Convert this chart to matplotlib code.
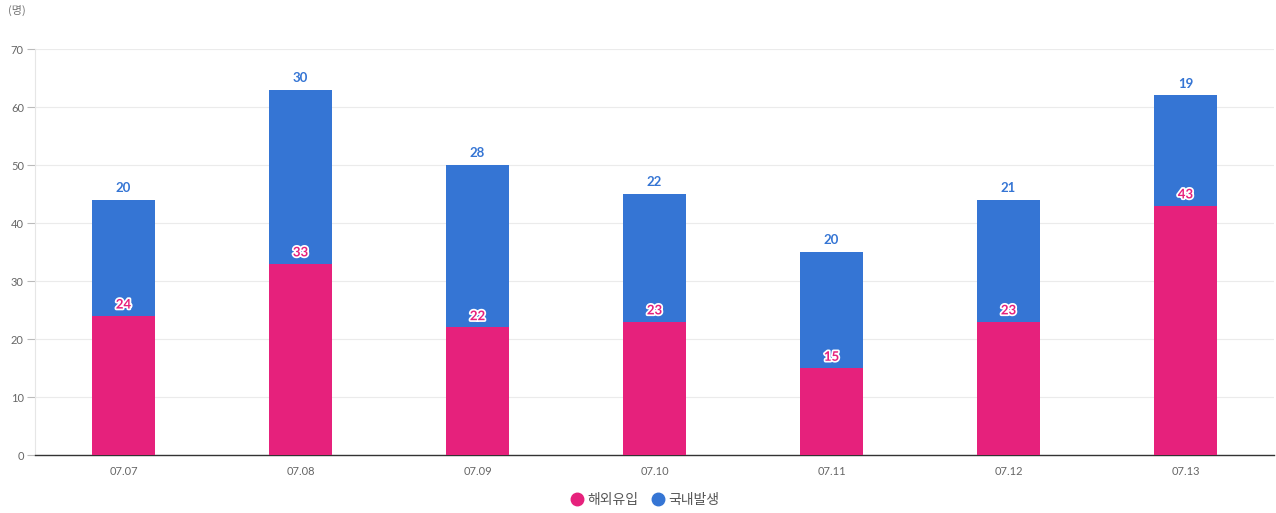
import matplotlib
matplotlib.use("Agg")
import matplotlib.pyplot as plt
import matplotlib.patheffects as pe
from matplotlib.lines import Line2D
import numpy as np

plt.rcParams['font.family'] = ['Noto Sans CJK KR', 'DejaVu Sans']

dates = ['07.07', '07.08', '07.09', '07.10', '07.11', '07.12', '07.13']
overseas = [24, 33, 22, 23, 15, 23, 43]   # 해외유입
domestic = [20, 30, 28, 22, 20, 21, 19]   # 국내발생
series_names = ['해외유입', '국내발생']
yticks = [0, 10, 20, 30, 40, 50, 60, 70]

pink = '#E6217C'
blue = '#3575D4'

fig = plt.figure(figsize=(12.76, 5.13), dpi=100)
ax = fig.add_axes([35/1276, 1-455/513, 1239/1276, 406/513])

x = np.arange(len(dates))
w = 0.36
ax.bar(x, overseas, width=w, color=pink, zorder=3)
ax.bar(x, domestic, width=w, bottom=overseas, color=blue, zorder=3)

for xi, o, d in zip(x, overseas, domestic):
    ax.text(xi, o + 0.9, str(o), ha='center', va='bottom', fontsize=9.5,
            color=pink, fontweight='bold', family='Lato', zorder=5,
            path_effects=[pe.withStroke(linewidth=2.5, foreground='white')])
    ax.text(xi, o + d + 1.0, str(d), ha='center', va='bottom', fontsize=9.5,
            color=blue, fontweight='bold', family='Lato', zorder=5)

ax.set_xlim(-0.5, len(dates) - 0.5)
ax.set_ylim(0, 70)
ax.set_yticks(yticks)
ax.set_xticks(x)
ax.set_xticklabels(dates)
ax.tick_params(axis='y', length=6, color='#bbbbbb', labelcolor='#666666', labelsize=8, pad=2)
ax.tick_params(axis='x', length=0, labelcolor='#666666', labelsize=8, pad=8)
for lab in ax.get_xticklabels() + ax.get_yticklabels():
    lab.set_family('Lato')
ax.grid(axis='y', color='#ebebeb', linewidth=0.8, zorder=0)
for s in ['top', 'right']:
    ax.spines[s].set_visible(False)
ax.spines['left'].set_color('#e6e6e6')
ax.spines['bottom'].set_color('#333333')
ax.spines['bottom'].set_linewidth(1.0)

fig.text(8/1276, 1-10/513, '(명)', fontsize=8, color='#777777', va='center', ha='left')

handles = [Line2D([0], [0], marker='o', color='none', markerfacecolor=pink, markeredgecolor=pink, markersize=9),
           Line2D([0], [0], marker='o', color='none', markerfacecolor=blue, markeredgecolor=blue, markersize=9)]
fig.legend(handles, series_names, loc='center', bbox_to_anchor=(645/1276, 1-500/513), ncol=2,
           frameon=False, fontsize=10, handletextpad=0.3, handlelength=0.9,
           columnspacing=1.0, labelcolor='#555555')

fig.savefig('out.png', dpi=100)
